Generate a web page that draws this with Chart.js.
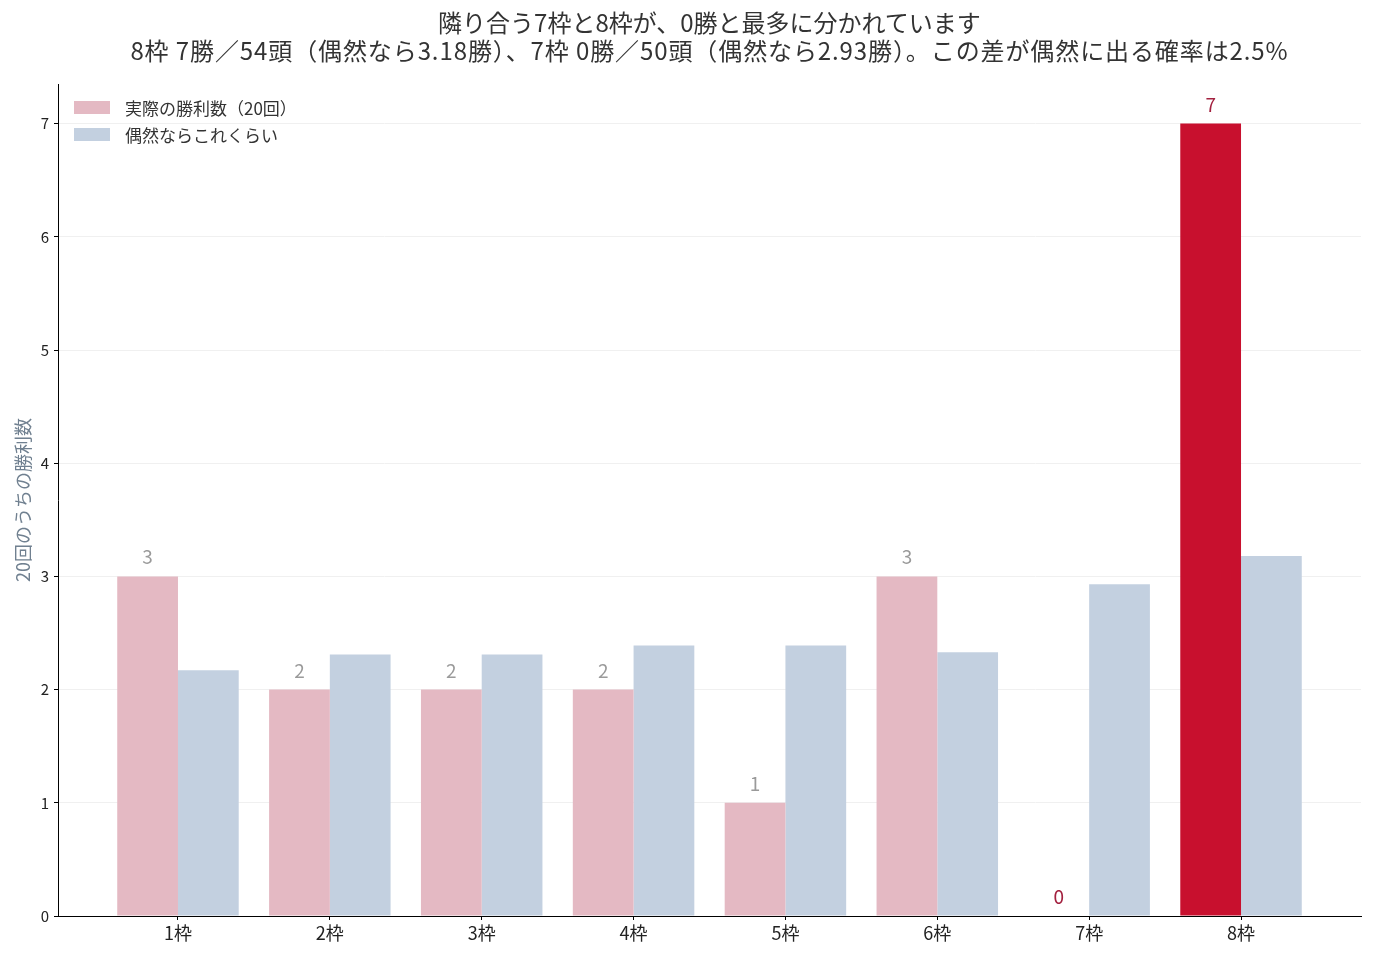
<!DOCTYPE html>
<html lang="ja">
<head>
<meta charset="utf-8">
<script src="https://cdn.jsdelivr.net/npm/chart.js@4.4.1/dist/chart.umd.min.js"></script>
<style>
  html, body { margin: 0; padding: 0; background: #fff; }
  body { font-family: "Noto Sans CJK JP", "Noto Sans", sans-serif; }
  #wrap { position: relative; width: 1376px; height: 960px; }
  #title { position: absolute; left: 109px; width: 1201px; top: 8px; text-align: center;
           font-size: 24px; line-height: 28px; color: #333; white-space: nowrap; }
  #title .l2 { letter-spacing: 0.9px; }
  #legend { position: absolute; left: 74px; top: 94px; font-size: 17px; color: #333; }
  #legend .row { height: 27px; display: flex; align-items: center; }
  #legend .sw { width: 36px; height: 13px; margin-right: 15px; }
</style>
</head>
<body>
<div id="wrap">
  <canvas id="chart" width="1376" height="960"></canvas>
  <div id="title">
    <div>隣り合う7枠と8枠が、0勝と最多に分かれています</div>
    <div class="l2">8枠 7勝／54頭（偶然なら3.18勝）、7枠 0勝／50頭（偶然なら2.93勝）。この差が偶然に出る確率は2.5%</div>
  </div>
  <div id="legend"></div>
</div>
<script>
// data
const categories = ['1枠', '2枠', '3枠', '4枠', '5枠', '6枠', '7枠', '8枠'];
const actualWins = [3, 2, 2, 2, 1, 3, 0, 7];
const expectedWins = [2.17, 2.31, 2.31, 2.39, 2.39, 2.33, 2.93, 3.18];
const yTicks = [0, 1, 2, 3, 4, 5, 6, 7];
const seriesNames = ['実際の勝利数（20回）', '偶然ならこれくらい'];
const highlight = ['7枠', '8枠'];

const PINK = '#e4b9c3';
const BLUE = '#c3d0e0';
const RED = '#c8102e';
const LABEL_RED = '#a3213f';
const FONT = '"Noto Sans CJK JP", "Noto Sans", sans-serif';

const toPoints = vals => vals.map((v, i) => ({ x: i, y: v }));

// legend (html)
const legendEl = document.getElementById('legend');
[[seriesNames[0], PINK], [seriesNames[1], BLUE]].forEach(([name, col]) => {
    const row = document.createElement('div');
    row.className = 'row';
    row.innerHTML = '<span class="sw" style="background:' + col + '"></span><span>' + name + '</span>';
    legendEl.appendChild(row);
});

// value labels above the actual bars
const valueLabels = {
    id: 'valueLabels',
    afterDatasetsDraw(chart) {
        const ctx = chart.ctx;
        const meta = chart.getDatasetMeta(0);
        ctx.save();
        ctx.font = '19px ' + FONT;
        ctx.textAlign = 'center';
        ctx.textBaseline = 'alphabetic';
        meta.data.forEach((bar, i) => {
            ctx.fillStyle = highlight.includes(categories[i]) ? LABEL_RED : '#9a9a9a';
            ctx.fillText(String(actualWins[i]), bar.x, bar.y - 12);
        });
        ctx.restore();
    }
};

new Chart(document.getElementById('chart'), {
    type: 'bar',
    data: {
        datasets: [
            {
                label: seriesNames[0],
                data: toPoints(actualWins),
                backgroundColor: categories.map(c => c === '8枠' ? RED : PINK),
                categoryPercentage: 0.8,
                barPercentage: 1.0
            },
            {
                label: seriesNames[1],
                data: toPoints(expectedWins),
                backgroundColor: BLUE,
                categoryPercentage: 0.8,
                barPercentage: 1.0
            }
        ]
    },
    options: {
        responsive: false,
        animation: false,
        layout: { padding: { top: 84, right: 15, bottom: 0, left: 0 } },
        plugins: {
            legend: { display: false },
            tooltip: { enabled: false }
        },
        scales: {
            x: {
                type: 'linear',
                min: -0.79,
                max: 7.79,
                offset: false,
                afterBuildTicks: s => { s.ticks = categories.map((c, i) => ({ value: i })); },
                afterFit: s => { s.height = 44; },
                ticks: {
                    callback: v => categories[v] || '',
                    color: '#222',
                    font: { family: FONT, size: 18 },
                    padding: 2,
                    maxRotation: 0,
                    autoSkip: false
                },
                grid: { offset: false, drawOnChartArea: false, tickLength: 4, tickColor: '#000' },
                border: { color: '#000', width: 1 }
            },
            y: {
                min: 0,
                max: 7.35,
                afterBuildTicks: s => { s.ticks = yTicks.map(v => ({ value: v })); },
                afterFit: s => { s.width = 58; },
                ticks: {
                    color: '#222',
                    font: { family: FONT, size: 15 },
                    padding: 5
                },
                grid: { color: '#f0f0f0', tickLength: 4, tickColor: '#000' },
                border: { color: '#000', width: 1 },
                title: {
                    display: true,
                    text: '20回のうちの勝利数',
                    color: '#708090',
                    font: { family: FONT, size: 18 },
                    padding: { top: 12, bottom: 0 }
                }
            }
        }
    },
    plugins: [valueLabels]
});
</script>
</body>
</html>
